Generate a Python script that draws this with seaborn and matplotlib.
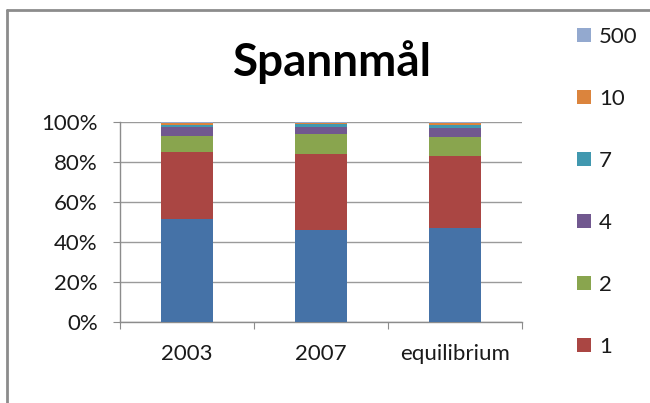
import numpy as np
import pandas as pd
import seaborn as sns
import matplotlib.pyplot as plt
from matplotlib.patches import Patch
from matplotlib.lines import Line2D

categories = ['2003', '2007', 'equilibrium']
series = ['0', '1', '2', '4', '7', '10', '500']
share_0 = [51.3, 46.2, 47.0]
share_1 = [33.5, 38.0, 35.8]
share_2 = [8.4, 9.6, 9.7]
share_4 = [4.5, 3.9, 4.5]
share_7 = [1.0, 1.1, 1.7]
share_10 = [0.8, 0.7, 0.8]
share_500 = [0.5, 0.5, 0.5]
colors = ['#4572A7', '#AA4643', '#89A54E', '#71588F', '#4198AF', '#DB843D', '#93A9CF']

sns.set_style('white')
plt.rcParams['font.family'] = ['Lato', 'DejaVu Sans']

df = pd.DataFrame([share_0, share_1, share_2, share_4, share_7, share_10, share_500],
                  index=series, columns=categories).T
df = df.div(df.sum(axis=1), axis=0)
cum = df.cumsum(axis=1)

fig = plt.figure(figsize=(6.5, 4.03), dpi=100)
ax = fig.add_axes([120 / 650, 1 - 322 / 403, 402 / 650, 200 / 403])

# stacked bars drawn from the top layer down
for name, col in reversed(list(zip(series, colors))):
    sns.barplot(x=categories, y=cum[name].values, color=col, width=0.39,
                saturation=1, linewidth=0, ax=ax, zorder=3)

ax.set_ylim(0, 1)
ax.set_xlim(-0.5, 2.5)
ax.set_yticks(np.arange(0, 1.01, 0.2))
ax.set_yticklabels([f'{int(round(v * 100))}%' for v in np.arange(0, 1.01, 0.2)])
ax.yaxis.grid(True, color='#9a9a9a', lw=1, zorder=0)
ax.set_xticks([-0.5, 0.5, 1.5, 2.5])
ax.set_xticklabels([])
ax.set_xticks([0, 1, 2], minor=True)
ax.set_xticklabels(categories, minor=True)
ax.tick_params(axis='x', which='major', length=5, color='#8c8c8c', direction='out', bottom=True)
ax.tick_params(axis='x', which='minor', length=0, pad=16, labelsize=16, labelcolor='#1a1a1a')
ax.tick_params(axis='y', length=5, color='#8c8c8c', direction='out', left=True,
               pad=11, labelsize=16, labelcolor='#1a1a1a')
for s in ['top', 'right']:
    ax.spines[s].set_visible(False)
for s in ['left', 'bottom']:
    ax.spines[s].set_color('#8c8c8c')
    ax.spines[s].set_linewidth(1)
ax.set_xlabel('')
ax.set_ylabel('')

fig.text(332 / 650, 1 - 62 / 403, 'Spannmål', ha='center', va='center',
         fontsize=33, fontweight='bold', color='black')

handles = [Patch(facecolor=c, edgecolor='none', label=n)
           for n, c in zip(series[1:][::-1], colors[1:][::-1])]
leg = fig.legend(handles=handles, loc='upper left', bbox_to_anchor=(577 / 650, 1 - 27 / 403),
                 frameon=False, fontsize=16, labelspacing=1.89, handlelength=0.63,
                 handleheight=0.63, handletextpad=0.35, borderpad=0, borderaxespad=0)
for t in leg.get_texts():
    t.set_color('#1a1a1a')

# chart area border (right and bottom edges fall outside the picture)
fig.add_artist(Line2D([7 / 650, 1], [1 - 10 / 403, 1 - 10 / 403], color='#8c8c8c', lw=2))
fig.add_artist(Line2D([7 / 650, 7 / 650], [0, 1 - 10 / 403], color='#8c8c8c', lw=2))

fig.savefig('out.png', dpi=100)
